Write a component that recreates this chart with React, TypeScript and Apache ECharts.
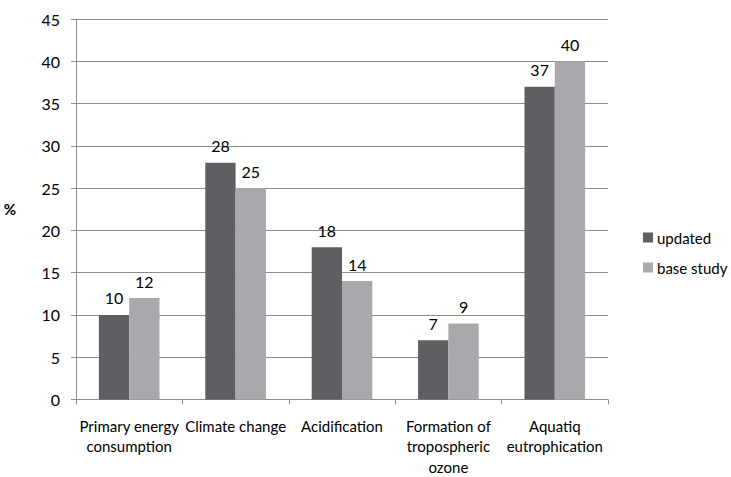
import React, { useEffect, useRef } from "react";
import * as echarts from "echarts";

const categories = [
  "Primary energy\nconsumption",
  "Climate change",
  "Acidification",
  "Formation of\ntropospheric\nozone",
  "Aquatiq\neutrophication",
];
const updated = [10, 28, 18, 7, 37];
const baseStudy = [12, 25, 14, 9, 40];
const yTicksMax = 45;

export default function App() {
  const ref = useRef<HTMLDivElement>(null);
  useEffect(() => {
    const chart = echarts.init(ref.current!, null, { renderer: "svg" });
    const font = "Lato, 'Open Sans', sans-serif";
    chart.setOption({
      animation: false,
      textStyle: { fontFamily: font },
      grid: { left: 76, top: 19, right: 123, bottom: 74 },
      legend: {
        orient: "vertical",
        left: 638,
        top: 225,
        itemWidth: 10,
        itemHeight: 10,
        itemGap: 15,
        itemStyle: { borderWidth: 0 },
        icon: "rect",
        textStyle: { fontSize: 15, color: "#000", fontFamily: font, padding: [0, 0, 0, -1] },
        data: ["updated", "base study"],
      },
      xAxis: {
        type: "category",
        data: categories,
        axisLine: { lineStyle: { color: "#8c8c8c" } },
        axisTick: { show: true, length: 5, lineStyle: { color: "#8c8c8c" } },
        axisLabel: {
          color: "#000",
          fontSize: 15,
          lineHeight: 20.5,
          margin: 16,
          interval: 0,
          fontFamily: font,
        },
      },
      yAxis: {
        type: "value",
        min: 0,
        max: yTicksMax,
        interval: 5,
        name: "%",
        nameLocation: "middle",
        nameRotate: 0,
        nameGap: 60,
        nameTextStyle: { fontWeight: "bold", fontSize: 15, color: "#000" },
        axisLine: { show: true, lineStyle: { color: "#8c8c8c" } },
        axisTick: { show: true, length: 5, lineStyle: { color: "#8c8c8c" } },
        axisLabel: { color: "#000", fontSize: 16, margin: 16, fontFamily: font },
        splitLine: { lineStyle: { color: "#8c8c8c" } },
      },
      series: [
        {
          name: "updated",
          type: "bar",
          data: updated,
          barGap: "0%",
          barCategoryGap: "43%",
          itemStyle: { color: "#5e5f63" },
          label: { show: true, position: "top", color: "#000", fontSize: 16, distance: 9 },
        },
        {
          name: "base study",
          type: "bar",
          data: baseStudy,
          barGap: "0%",
          barCategoryGap: "43%",
          itemStyle: { color: "#a7a9ac" },
          label: { show: true, position: "top", color: "#000", fontSize: 16, distance: 9 },
        },
      ],
    });
    return () => chart.dispose();
  }, []);
  return (
    <div
      ref={ref}
      style={{ position: "absolute", left: 0, top: 0, width: 731, height: 477 }}
    />
  );
}
